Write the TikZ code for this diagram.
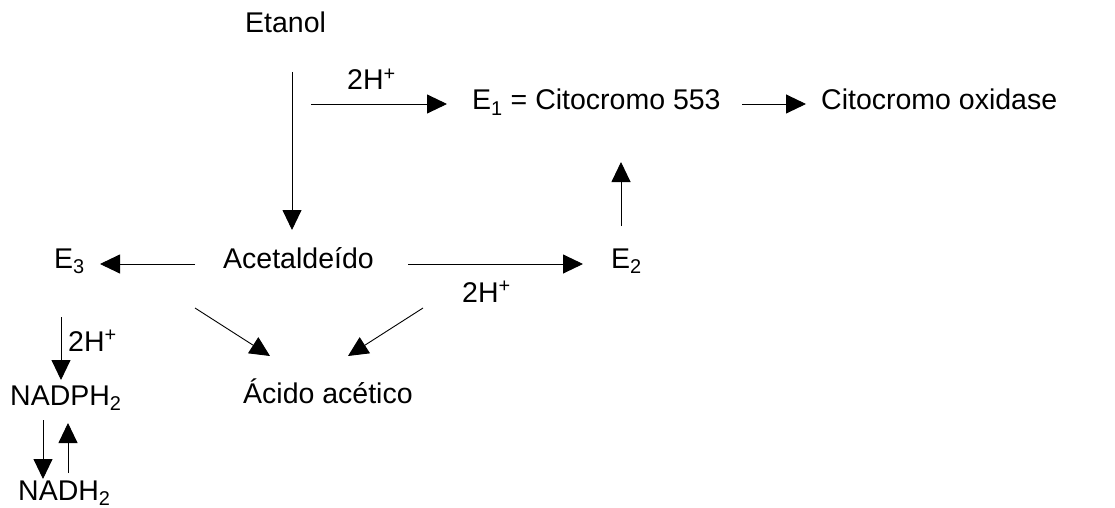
\documentclass[tikz,border=0pt]{standalone}
\usepackage{fontspec}
\setmainfont{Liberation Sans}
\usetikzlibrary{calc,arrows.meta}
\begin{document}
\begin{tikzpicture}[x=1pt,y=-1pt,
  lbl/.style={anchor=base west,inner sep=0pt,font=\fontsize{28.5}{30}\selectfont},
  arr/.style={line width=0.9pt,-{Triangle[length=20pt,width=19pt]}}]
\useasboundingbox (0,0) rectangle (1115,508);
% texts
\node[lbl] (etanol) at (245,33) {Etanol};
\node[lbl] (acet) at (223,268) {Acetalde\'{\i}do};
\node[lbl] (e3) at (54,268) {E\textsubscript{3}};
\node[lbl] (e2) at (611,268) {E\textsubscript{2}};
\node[lbl] (e1) at (472,110) {E\textsubscript{1} = Citocromo 553};
\node[lbl] (cox) at (821,110) {Citocromo oxidase};
\node[lbl] (acido) at (243,403) {Ácido acético};
\node[lbl] (nadph) at (10,405) {NADPH\textsubscript{2}};
\node[lbl] (nadh) at (18,500) {NADH\textsubscript{2}};
\node[lbl] (h1) at (347,90) {2H\textsuperscript{+}};
\node[lbl] (h2) at (462,302) {2H\textsuperscript{+}};
\node[lbl] (h3) at (68,351) {2H\textsuperscript{+}};
% arrows
\draw[arr] ($(etanol.base west)+(47,39)$) -- ($(acet.base west)+(69,-38)$);
\draw[arr] ($(e1.base west)+(-161,-6)$) -- ($(e1.base west)+(-25,-6)$);
\draw[arr] ($(cox.base west)+(-79,-6)$) -- ($(cox.base west)+(-15,-6)$);
\draw[arr] ($(e2.base west)+(10,-42)$) -- ($(e1.base west)+(149,52)$);
\draw[arr] ($(acet.base west)+(-28,-4)$) -- ($(e3.base west)+(46,-4)$);
\draw[arr] ($(acet.base west)+(185,-4)$) -- ($(e2.base west)+(-28,-4)$);
\draw[arr] ($(acet.base west)+(-28,40)$) -- ($(acido.base west)+(27,-47)$);
\draw[arr] ($(acet.base west)+(200,40)$) -- ($(acido.base west)+(105,-47)$);
\draw[arr] ($(e3.base west)+(7,49)$) -- ($(nadph.base west)+(51,-25)$);
\draw[arr] ($(nadph.base west)+(33,15)$) -- ($(nadh.base west)+(25,-21)$);
\draw[arr] ($(nadh.base west)+(50,-27)$) -- ($(nadph.base west)+(58,18)$);
\end{tikzpicture}
\end{document}
